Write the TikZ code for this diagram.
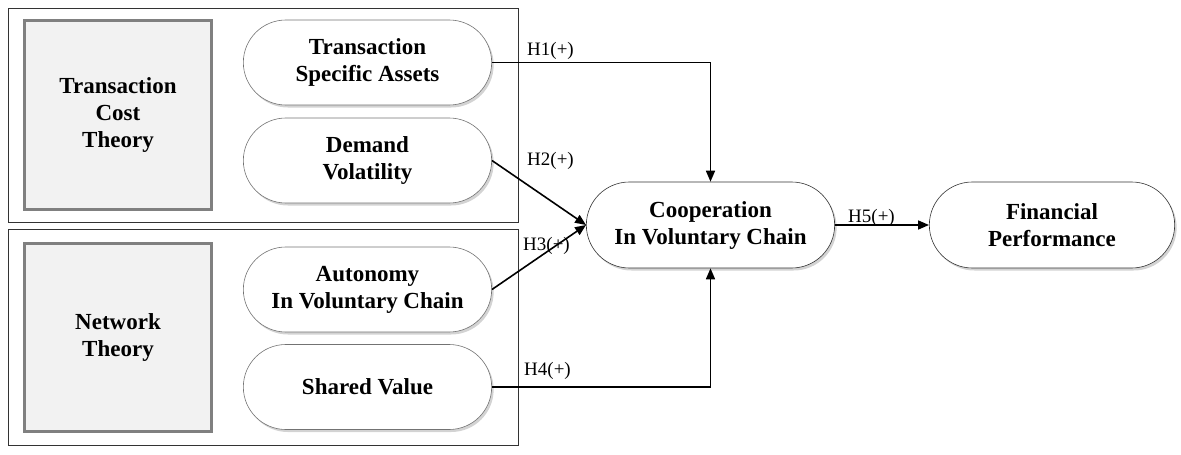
\documentclass[tikz,border=0pt]{standalone}
\usepackage{fontspec}
\setmainfont{Liberation Serif}
\usetikzlibrary{shapes.misc,shadows,arrows.meta}
\definecolor{boxgray}{HTML}{F2F2F2}
\definecolor{rimgray}{HTML}{808080}

\begin{document}
\begin{tikzpicture}[x=1pt,y=-1pt,
  frame/.style={draw=black!80, line width=0.8pt, inner sep=0pt, minimum width=510pt},
  theory/.style={draw=rimgray, fill=boxgray, line width=3pt, align=center, minimum width=187pt,
    font=\fontsize{23}{27}\selectfont\bfseries},
  pill/.style={rounded rectangle, draw=black!55, fill=white, line width=0.6pt, align=center,
    minimum width=255pt, minimum height=85pt, font=\fontsize{23}{27}\selectfont\bfseries,
    drop shadow={opacity=0.35, shadow xshift=2pt, shadow yshift=-2.5pt}},
  link/.style={line width=1.6pt, -{Triangle[length=11pt,width=9pt]}},
  hyp/.style={anchor=base west, inner sep=0pt, font=\fontsize{19}{22}\selectfont}]
\useasboundingbox (0,0) rectangle (1181,455);
% theory frames
\node[frame, minimum height=214pt] (G1) at (263,115) {};
\node[frame, minimum height=216pt] (G2) at (263,337) {};
\node[theory, minimum height=189pt] (G1T) at (118,115) {Transaction\\Cost\\Theory};
\node[theory, minimum height=188pt] (G2T) at (118,337.5) {Network\\Theory};
% constructs
\node[pill] (G1N1) at (367.5,62.5) {Transaction\\Specific Assets};
\node[pill] (G1N2) at (367.5,160.5) {Demand\\Volatility};
\node[pill] (G2N1) at (367.5,289.5) {Autonomy\\In Voluntary Chain};
\node[pill] (G2N2) at (367.5,387) {Shared Value};
\node[pill, draw=black!80, minimum height=86pt] (C) at (710.5,225) {Cooperation\\In Voluntary Chain};
\node[pill, draw=black!80, minimum height=86pt, minimum width=252pt] (F) at (1052,225) {Financial\\Performance};
% paths
\draw[link] (G1N1.east) -| (C.north);
\draw[link] (G1N2.east) -- (C.west);
\draw[link] (G2N1.east) -- (C.west);
\draw[link] (G2N2.east) -| (C.south);
\draw[link] (C) -- (F);
\node[hyp] (H1) at (527,55) {H1(+)};
\node[hyp] (H2) at (527,165) {H2(+)};
\node[hyp] (H3) at (523,250) {H3(+)};
\node[hyp] (H4) at (524,375) {H4(+)};
\node[hyp] (H5) at (848,222) {H5(+)};
\end{tikzpicture}
\end{document}
